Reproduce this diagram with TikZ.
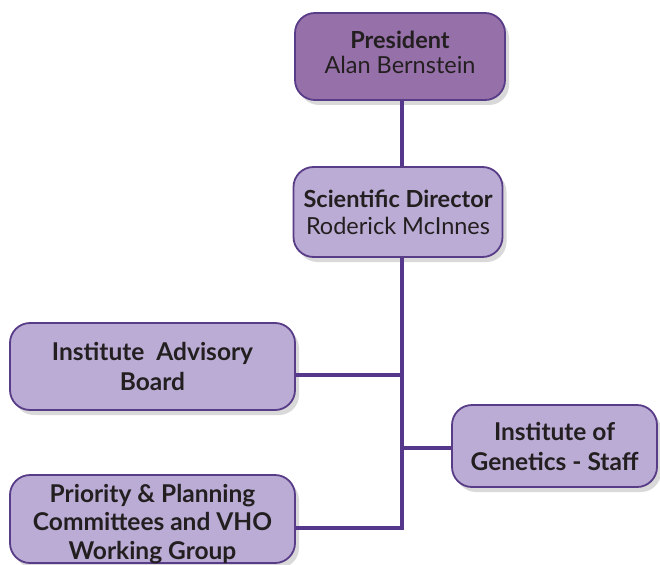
\documentclass[tikz,border=0pt]{standalone}
\usepackage{fontspec}
\setmainfont{Lato}
\usetikzlibrary{shadows,calc}
\definecolor{presfill}{RGB}{150,112,168}
\definecolor{boxfill}{RGB}{186,172,212}
\definecolor{edgec}{RGB}{88,60,135}
\definecolor{linec}{RGB}{85,55,140}
\definecolor{txt}{RGB}{35,31,32}
\tikzset{
  orgbox/.style={draw=edgec, line width=1.8pt, rounded corners=20pt, fill=boxfill,
    align=center, text=txt, inner sep=1pt,
    drop shadow={shadow xshift=4pt, shadow yshift=-5pt, opacity=0.25, fill=black!60}},
  presbox/.style={orgbox, fill=presfill},
  boxtext/.style={align=center, text=txt, inner sep=1pt},
  conn/.style={draw=linec, line width=3.3pt}
}
\begin{document}
\begin{tikzpicture}[x=1pt,y=-1pt]
\useasboundingbox (0,0) rectangle (660,564);
\node[presbox, minimum width=210pt, minimum height=87pt] (pres) at (400,56.5) {};
\node[boxtext, font=\fontsize{23.5}{25.5}\selectfont] (prestext) at ($(pres.center)+(0,-4)$)
  {\textbf{President}\\Alan Bernstein};
\node[orgbox, minimum width=209pt, minimum height=90pt, font=\fontsize{23.5}{27}\selectfont] (sd) at (398,212)
  {\textbf{Scientific Director}\\Roderick McInnes};
\node[orgbox, minimum width=285pt, minimum height=87pt, font=\bfseries\fontsize{24.5}{30}\selectfont] (iab) at (152.5,366.5)
  {Institute\ \ Advisory\\Board};
\node[orgbox, minimum width=285pt, minimum height=88pt] (ppc) at (152.5,519) {};
\node[boxtext, font=\bfseries\fontsize{24.5}{28.5}\selectfont] (ppctext) at ($(ppc.center)+(0,5)$)
  {Priority \& Planning\\Committees and VHO\\Working Group};
\node[orgbox, minimum width=205pt, minimum height=82pt, font=\bfseries\fontsize{24.5}{30}\selectfont] (gen) at (554.5,446)
  {Institute of\\Genetics - Staff};
\coordinate (spine) at (402,0);
\coordinate (iabc) at ($(iab.east)+(0,8.5)$);
\coordinate (ppcc) at ($(ppc.east)+(0,9)$);
\coordinate (genc) at ($(gen.west)+(0,2)$);
\coordinate (spineend) at (ppcc -| spine);
\draw[conn] (pres.south -| spine) -- (sd.north -| spine);
\draw[conn] (sd.south -| spine) -- (spineend) -- (ppcc);
\draw[conn] (iabc) -- (iabc -| spine);
\draw[conn] (genc) -- (genc -| spine);
\end{tikzpicture}
\end{document}
